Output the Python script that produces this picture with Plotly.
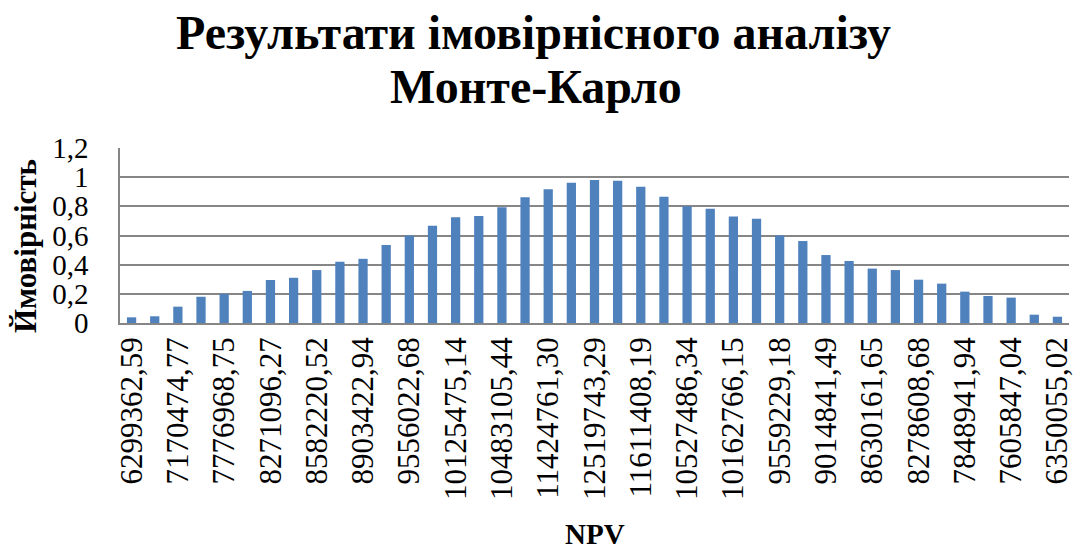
import plotly.graph_objects as go

tick_labels = ["6299362,59", "7170474,77", "7776968,75", "8271096,27", "8582220,52",
               "8903422,94", "9556022,68", "10125475,14", "10483105,44", "11424761,30",
               "12519743,29", "11611408,19", "10527486,34", "10162766,15", "9559229,18",
               "9014841,49", "8630161,65", "8278608,68", "7848941,94", "7605847,04",
               "6350055,02"]

probability = [0.039, 0.046, 0.112, 0.18, 0.2, 0.22, 0.295, 0.31, 0.363, 0.42,
               0.44, 0.535, 0.6, 0.667, 0.725, 0.734, 0.793, 0.862, 0.917, 0.962,
               0.98, 0.976, 0.935, 0.866, 0.8, 0.784, 0.73, 0.715, 0.6, 0.562,
               0.466, 0.425, 0.373, 0.363, 0.297, 0.27, 0.215, 0.185, 0.174, 0.057,
               0.043]

title_lines = ["Результати імовірнісного аналізу", "Монте-Карло"]
x_title = "NPV"
y_title = "Ймовірність"

positions = list(range(len(probability)))
tick_positions = positions[::2]

font_family = "Liberation Serif, Times New Roman, serif"

fig = go.Figure(go.Bar(x=positions, y=probability, marker_color="#4F81BD",
                       marker_line_width=0))

# plot area in pixels: x 120..1069, y 148..323
L, R, T, B = 120, 1069, 148, 323
def px_x(p):
    return (p - L) / (R - L)
def px_y(p):
    return (B - p) / (B - T)

annotations = [
    dict(text="<b>%s</b>" % title_lines[0], x=px_x(533), y=px_y(33),
         xref="paper", yref="paper", xanchor="center", yanchor="middle",
         showarrow=False, font=dict(size=48, family=font_family, color="black")),
    dict(text="<b>%s</b>" % title_lines[1], x=px_x(536), y=px_y(86),
         xref="paper", yref="paper", xanchor="center", yanchor="middle",
         showarrow=False, font=dict(size=48, family=font_family, color="black")),
    dict(text="<b>%s</b>" % x_title, x=px_x(595), y=px_y(534),
         xref="paper", yref="paper", xanchor="center", yanchor="middle",
         showarrow=False, font=dict(size=29, family=font_family, color="black")),
    dict(text="<b>%s</b>" % y_title, x=px_x(25), y=px_y(246), textangle=-90,
         xref="paper", yref="paper", xanchor="center", yanchor="middle",
         showarrow=False, font=dict(size=31, family=font_family, color="black")),
]

fig.update_layout(
    width=1073, height=551,
    margin=dict(l=L, r=1073 - R, t=T, b=551 - B, autoexpand=False),
    paper_bgcolor="white", plot_bgcolor="white",
    separators=", ",
    bargap=0.6,
    showlegend=False,
    font=dict(family=font_family, color="black"),
    annotations=annotations,
    xaxis=dict(tickmode="array", tickvals=tick_positions, ticktext=tick_labels,
               tickangle=-90, tickfont=dict(size=31, family=font_family),
               range=[-0.5, len(probability) - 0.5], automargin=False,
               ticklabeloverflow="allow",
               showline=True, linecolor="#868686", linewidth=1.5,
               showgrid=False, ticks="", zeroline=False),
    yaxis=dict(range=[0, 1.2], dtick=0.2, tick0=0, automargin=False,
               tickfont=dict(size=29, family=font_family),
               showgrid=True, gridcolor="#868686", gridwidth=1.5,
               showline=True, linecolor="#868686", linewidth=1.5,
               zeroline=False, ticks="outside", ticklen=24,
               tickcolor="rgba(0,0,0,0)"),
)

fig.write_html("out.html", config={"displayModeBar": False},
               post_script="document.body.style.margin='0';document.body.style.padding='0';")
